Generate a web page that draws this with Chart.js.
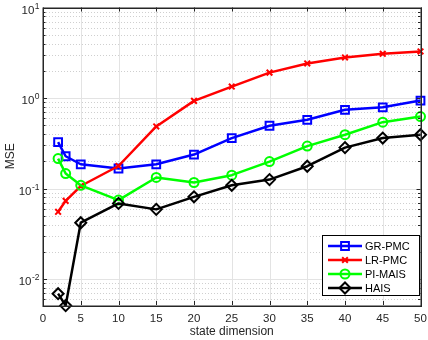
<!DOCTYPE html>
<html><head><meta charset="utf-8">
<script src="https://cdn.jsdelivr.net/npm/chart.js@4/dist/chart.umd.min.js"></script>
<style>html,body{margin:0;padding:0;background:#fff}#wrap{width:428px;height:340px;position:relative}</style>
</head><body><div id="wrap"><canvas id="c" width="428" height="340"></canvas></div>
<script>
const dims = [2, 3, 5, 10, 15, 20, 25, 30, 35, 40, 45, 50];
const grPMC = [0.327, 0.228, 0.186, 0.167, 0.186, 0.238, 0.362, 0.495, 0.576, 0.742, 0.792, 0.94];
const lrPMC = [0.0556, 0.0734, 0.107, 0.178, 0.486, 0.931, 1.34, 1.91, 2.41, 2.81, 3.08, 3.27];
const piMAIS = [0.215, 0.147, 0.109, 0.0748, 0.133, 0.117, 0.141, 0.199, 0.295, 0.394, 0.542, 0.626];
const hais = [0.00693, 0.00512, 0.0421, 0.0688, 0.0591, 0.0813, 0.109, 0.126, 0.177, 0.284, 0.362, 0.394];
const seriesNames = ['GR-PMC', 'LR-PMC', 'PI-MAIS', 'HAIS'];
const xTickValues = [0, 5, 10, 15, 20, 25, 30, 35, 40, 45, 50];
const yDecades = [0.01, 0.1, 1, 10];
const yTickBase = '10';
const yTickExponents = ['-2', '-1', '0', '1'];
const xTitle = 'state dimension';
const yTitle = 'MSE';

const FONT = '"Liberation Sans", Arial, Helvetica, sans-serif';
const AX = '#262626';

function pts(vals) { return dims.map((d, i) => ({ x: d, y: vals[i] })); }

const styles = [
  { color: '#0000ff', pointStyle: 'rect', radius: 5.5 },
  { color: '#ff0000', pointStyle: 'crossRot', radius: 4 },
  { color: '#00ff00', pointStyle: 'circle', radius: 4.5 },
  { color: '#000000', pointStyle: 'rectRot', radius: 5.5 }
];
const allVals = [grPMC, lrPMC, piMAIS, hais];

const datasets = allVals.map((v, i) => ({
  label: seriesNames[i],
  data: pts(v),
  borderColor: styles[i].color,
  backgroundColor: 'transparent',
  borderWidth: 2.5,
  pointStyle: styles[i].pointStyle,
  pointRadius: styles[i].radius,
  pointBorderWidth: 2,
  pointBorderColor: styles[i].color,
  pointBackgroundColor: 'transparent',
  tension: 0,
  clip: false,
  order: 3 - i
}));

function crisp(v) { return Math.round(v) + 0.5; }

const gridPlugin = {
  id: 'matlabGrid',
  beforeDatasetsDraw(chart) {
    const { ctx, chartArea: a, scales: { x, y } } = chart;
    ctx.save();
    ctx.lineWidth = 1;
    ctx.strokeStyle = '#cfcfcf';
    ctx.setLineDash([1, 2]);
    for (let e = -3; e <= 0; e++) {
      for (let k = 2; k <= 9; k++) {
        const v = k * Math.pow(10, e);
        if (v <= y.min || v >= y.max) continue;
        const py = crisp(y.getPixelForValue(v));
        ctx.beginPath(); ctx.moveTo(a.left, py); ctx.lineTo(a.right, py); ctx.stroke();
      }
    }
    ctx.setLineDash([]);
    ctx.strokeStyle = '#e3e3e3';
    yDecades.forEach(v => {
      const py = crisp(y.getPixelForValue(v));
      ctx.beginPath(); ctx.moveTo(a.left, py); ctx.lineTo(a.right, py); ctx.stroke();
    });
    xTickValues.forEach(v => {
      const px = crisp(x.getPixelForValue(v));
      ctx.beginPath(); ctx.moveTo(px, a.top); ctx.lineTo(px, a.bottom); ctx.stroke();
    });
    ctx.restore();
  },
  afterDatasetsDraw(chart) {
    const { ctx, chartArea: a, scales: { x, y } } = chart;
    ctx.save();
    ctx.strokeStyle = AX;
    ctx.lineWidth = 1;
    xTickValues.forEach(v => {
      const px = crisp(x.getPixelForValue(v));
      ctx.beginPath();
      ctx.moveTo(px, a.bottom); ctx.lineTo(px, a.bottom - 4);
      ctx.moveTo(px, a.top); ctx.lineTo(px, a.top + 4);
      ctx.stroke();
    });
    yDecades.forEach(v => {
      const py = crisp(y.getPixelForValue(v));
      ctx.beginPath();
      ctx.moveTo(a.left, py); ctx.lineTo(a.left + 4, py);
      ctx.moveTo(a.right, py); ctx.lineTo(a.right - 4, py);
      ctx.stroke();
    });
    for (let e = -3; e <= 0; e++) {
      for (let k = 2; k <= 9; k++) {
        const v = k * Math.pow(10, e);
        if (v <= y.min || v >= y.max) continue;
        const py = crisp(y.getPixelForValue(v));
        ctx.beginPath();
        ctx.moveTo(a.left, py); ctx.lineTo(a.left + 2.5, py);
        ctx.moveTo(a.right, py); ctx.lineTo(a.right - 2.5, py);
        ctx.stroke();
      }
    }
    ctx.lineWidth = 1.5;
    ctx.strokeRect(Math.round(a.left) + 0.25, Math.round(a.top) + 0.25, Math.round(a.right - a.left), Math.round(a.bottom - a.top));

    // y tick labels with superscript exponents, positioned from the log scale
    ctx.fillStyle = AX;
    ctx.textAlign = 'left';
    ctx.textBaseline = 'alphabetic';
    y.ticks.forEach((t) => {
      const idx = yDecades.findIndex(d => Math.abs(d - t.value) < d * 1e-6);
      if (idx < 0) return;
      const py = y.getPixelForValue(t.value);
      ctx.font = '11.5px ' + FONT;
      const wb = ctx.measureText(yTickBase).width;
      ctx.font = '8.5px ' + FONT;
      const we = ctx.measureText(yTickExponents[idx]).width;
      const right = a.left - 4;
      const x0 = right - we - wb;
      ctx.font = '11.5px ' + FONT;
      ctx.fillText(yTickBase, x0, py + 6);
      ctx.font = '8.5px ' + FONT;
      ctx.fillText(yTickExponents[idx], x0 + wb + 0.5, py + 1);
    });
    ctx.restore();
  },
  afterDraw(chart) {
    const { ctx } = chart;
    ctx.save();
    const bx = 322.5, by = 235.5, bw = 97, bh = 60;
    ctx.fillStyle = '#fff';
    ctx.fillRect(bx, by, bw, bh);
    ctx.strokeStyle = '#000';
    ctx.lineWidth = 1;
    ctx.strokeRect(bx, by, bw, bh);
    ctx.textBaseline = 'middle';
    ctx.textAlign = 'left';
    chart.data.datasets.forEach((ds, i) => {
      const cy = 246 + i * 14;
      ctx.strokeStyle = ds.borderColor;
      ctx.lineWidth = 2.5;
      ctx.beginPath(); ctx.moveTo(328, cy); ctx.lineTo(362, cy); ctx.stroke();
      ctx.lineWidth = 2;
      ctx.strokeStyle = ds.borderColor;
      ctx.fillStyle = 'rgba(0,0,0,0)';
      Chart.helpers.drawPoint(ctx, {
        pointStyle: ds.pointStyle, radius: ds.pointRadius, rotation: 0, borderWidth: 2
      }, 345, cy);
      ctx.fillStyle = '#000';
      ctx.font = '11px ' + FONT;
      ctx.fillText(ds.label, 365, cy + 0.5);
    });
    ctx.restore();
  }
};

new Chart(document.getElementById('c'), {
  type: 'line',
  data: { datasets },
  options: {
    responsive: false,
    animation: false,
    devicePixelRatio: 1,
    layout: { padding: { top: 7, right: 7, left: 0, bottom: 0 } },
    plugins: { legend: { display: false }, tooltip: { enabled: false } },
    elements: { line: { borderJoinStyle: 'round' } },
    scales: {
      x: {
        type: 'linear', min: 0, max: 50,
        afterBuildTicks: s => { s.ticks = xTickValues.map(v => ({ value: v })); },
        afterFit: s => { s.height = 35; s.paddingLeft = 0; s.paddingRight = 0; },
        ticks: { color: AX, font: { family: FONT, size: 11.5 }, padding: 7, autoSkip: false, maxRotation: 0 },
        grid: { display: false, drawTicks: false },
        border: { display: false },
        title: { display: true, text: xTitle, color: AX, font: { family: FONT, size: 12 }, padding: { top: 0, bottom: 1 } }
      },
      y: {
        type: 'logarithmic', min: 0.0052, max: 10,
        afterBuildTicks: s => { s.ticks = yDecades.map(v => ({ value: v })); },
        afterFit: s => { s.width = 43; s.paddingTop = 0; s.paddingBottom = 0; },
        ticks: { autoSkip: false, callback: () => '' },
        grid: { display: false, drawTicks: false },
        border: { display: false },
        title: { display: true, text: yTitle, color: AX, font: { family: FONT, size: 12 }, padding: { top: 3, bottom: 0 } }
      }
    }
  },
  plugins: [gridPlugin]
});
</script>
</body></html>
